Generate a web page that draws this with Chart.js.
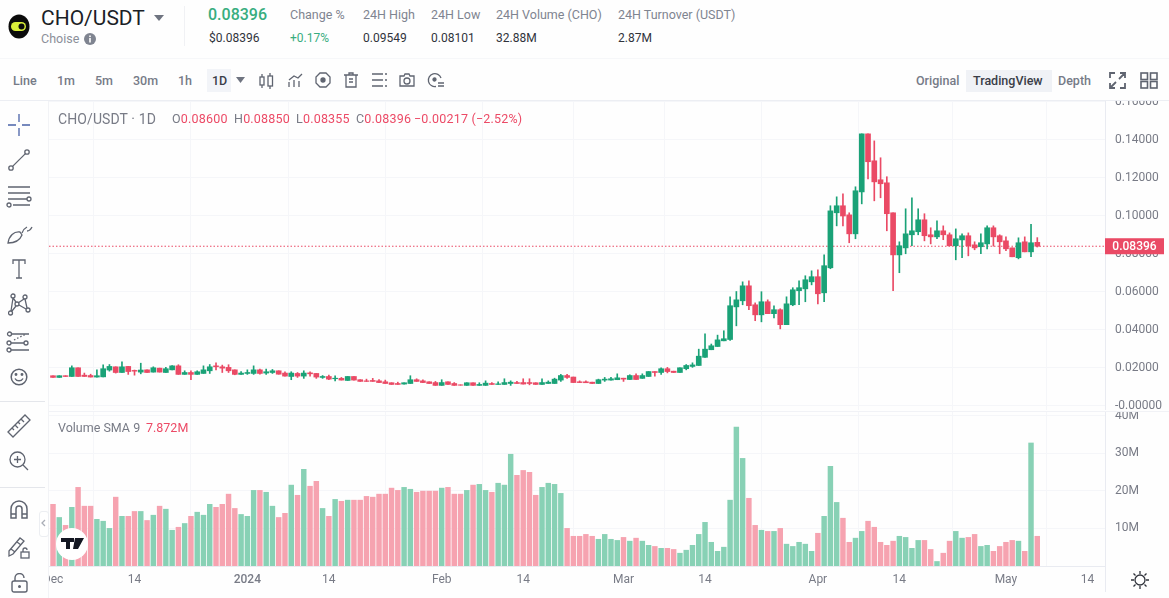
<!DOCTYPE html>
<html>
<head>
<meta charset="utf-8">
<title>CHO/USDT</title>
<script src="https://cdn.jsdelivr.net/npm/chart.js@4/dist/chart.umd.js"></script>
<style>
html, body { margin: 0; padding: 0; background: #fefefe; overflow: hidden; }
body { width: 1169px; height: 598px; position: relative; font-family: Roboto, sans-serif; color: #7f8490; }
.t { position: absolute; white-space: nowrap; line-height: 1; }
canvas { position: absolute; }
.box { position: absolute; }
svg.i { position: absolute; fill: none; stroke: #5f6470; stroke-width: 1.3; }
.leg { font-size: 12.5px; letter-spacing: .2px; color: #ec4a66; top: 113px; }
.leg span { color: #787b86; }
</style>
</head>
<body>

<canvas id="priceChart" width="1120" height="310" style="left:49px;top:100px"></canvas>
<canvas id="volumeChart" width="1120" height="187" style="left:49px;top:411px"></canvas>
<div class="box" style="left:49px;top:411px;width:1120px;height:1px;background:#f1f2f6"></div>
<div class="box" style="left:1105px;top:566px;width:1px;height:26px;background:#e9ebf1"></div>

<!-- header -->
<div class="box" style="left:0;top:0;width:1169px;height:100px;background:#fefefe"></div>
<div class="box" style="left:0;top:58px;width:1169px;height:1px;background:#f6f7f9"></div>
<div class="box" style="left:0;top:100px;width:1169px;height:1px;background:#eceef3"></div>
<div class="box" style="left:184px;top:6px;width:1px;height:40px;background:#f0f1f4"></div>
<svg class="i" style="left:8px;top:14px;stroke:none" width="22" height="25"><ellipse cx="11" cy="12.5" rx="10.5" ry="12" fill="#0b0b0b"/><rect x="3" y="8" width="15" height="9" rx="4.5" fill="#d9ee3a"/><circle cx="13.5" cy="12.5" r="3" fill="#0b0b0b"/></svg>
<div class="t" style="left:41px;top:8px;font-size:21px;color:#1c1f27">CHO/USDT</div>
<svg class="i" style="left:154px;top:15px;stroke:none" width="10" height="7"><path d="M0 0h10L5 6z" fill="#6f7480"/></svg>
<div class="t" style="left:41px;top:33px;font-size:12.5px;color:#8b8f99">Choise</div>
<svg class="i" style="left:84px;top:33px;stroke:none" width="12" height="12"><circle cx="6" cy="6" r="6" fill="#7f8490"/><rect x="5.2" y="5" width="1.6" height="4.5" fill="#fff"/><rect x="5.2" y="2.5" width="1.6" height="1.6" fill="#fff"/></svg>

<div class="t" style="left:208px;top:7px;font-size:16px;font-weight:500;color:#38ad7f">0.08396</div>
<div class="t" style="left:209px;top:32px;font-size:12px;color:#30333b">$0.08396</div>
<div class="t" style="left:290px;top:9px;font-size:12.5px">Change %</div>
<div class="t" style="left:290px;top:32px;font-size:12px;color:#38ad7f">+0.17%</div>
<div class="t" style="left:363px;top:9px;font-size:12.5px">24H High</div>
<div class="t" style="left:363px;top:32px;font-size:12px;color:#30333b">0.09549</div>
<div class="t" style="left:431px;top:9px;font-size:12.5px">24H Low</div>
<div class="t" style="left:431px;top:32px;font-size:12px;color:#30333b">0.08101</div>
<div class="t" style="left:496px;top:9px;font-size:12.5px">24H Volume (CHO)</div>
<div class="t" style="left:496px;top:32px;font-size:12px;color:#30333b">32.88M</div>
<div class="t" style="left:618px;top:9px;font-size:12.5px">24H Turnover (USDT)</div>
<div class="t" style="left:618px;top:32px;font-size:12px;color:#30333b">2.87M</div>

<!-- toolbar -->
<div class="t" style="left:13px;top:75px;font-size:12.5px;font-weight:500;color:#767b87">Line</div>
<div class="t" style="left:57px;top:75px;font-size:12.5px;font-weight:500;color:#767b87">1m</div>
<div class="t" style="left:95px;top:75px;font-size:12.5px;font-weight:500;color:#767b87">5m</div>
<div class="t" style="left:133px;top:75px;font-size:12.5px;font-weight:500;color:#767b87">30m</div>
<div class="t" style="left:178px;top:75px;font-size:12.5px;font-weight:500;color:#767b87">1h</div>
<div class="box" style="left:207px;top:69px;width:24px;height:23px;background:#f2f4f8"></div>
<div class="t" style="left:212px;top:75px;font-size:12.5px;font-weight:500;color:#3a3e48">1D</div>
<svg class="i" style="left:236px;top:77px;stroke:none" width="10" height="6"><path d="M0 0h9L4.5 6z" fill="#6f7480"/></svg>
<svg class="i" style="left:259px;top:73px" width="15" height="16"><rect x="1" y="4" width="4" height="8"/><rect x="9" y="3" width="4.5" height="10"/><path d="M3 1v3M3 12v3M11 0v3M11 13v3"/></svg>
<svg class="i" style="left:288px;top:73px" width="15" height="15"><path d="M1 14V9M6 14V7M11 14V8M1 7l5-4 4 2 4-4"/></svg>
<svg class="i" style="left:315px;top:72px" width="16" height="16"><path d="M5 1h6l4 4v6l-4 4H5l-4-4V5z"/><circle cx="8" cy="8" r="2" fill="#5f6470"/></svg>
<svg class="i" style="left:344px;top:72px" width="14" height="16"><path d="M0 3h14M5 3V1h4v2M2 3v12h10V3M5 7h4M5 10h4"/></svg>
<svg class="i" style="left:372px;top:73px" width="15" height="14"><path d="M0 1h11M0 7h11M0 13h11M13 1h2M13 7h2M13 13h2"/></svg>
<svg class="i" style="left:399px;top:73px" width="16" height="14"><path d="M1 3h4l1-2h4l1 2h4v10H1z"/><circle cx="8" cy="8" r="3"/></svg>
<svg class="i" style="left:427px;top:72px" width="17" height="16"><path d="M14 6a6.5 6.5 0 1 0-5 8.5M11 11h6M11 14h6"/><circle cx="7.5" cy="7.5" r="1.5" fill="#5f6470"/></svg>

<div class="t" style="left:916px;top:75px;font-size:12.5px;font-weight:500;color:#767b87">Original</div>
<div class="box" style="left:966px;top:70px;width:86px;height:22px;background:#f0f2f6"></div>
<div class="t" style="left:973px;top:75px;font-size:12.5px;font-weight:500;color:#3a3e48">TradingView</div>
<div class="t" style="left:1058px;top:75px;font-size:12.5px;font-weight:500;color:#767b87">Depth</div>
<svg class="i" style="left:1109px;top:72px;stroke-width:1.8" width="17" height="17"><path d="M1 6V1h5M16 6V1h-5M11 1h5L10 7M1 11v5h5M1 16l6-6M16 11v5h-5"/></svg>
<svg class="i" style="left:1140px;top:72px;stroke-width:1.6" width="18" height="17"><rect x="1" y="1" width="6.5" height="6.5"/><rect x="10.5" y="1" width="6.5" height="6.5"/><rect x="1" y="9.5" width="6.5" height="6.5"/><rect x="10.5" y="9.5" width="6.5" height="6.5"/></svg>

<!-- left drawing tools -->
<div class="box" style="left:0;top:101px;width:48px;height:497px;background:#fefefe;border-right:1px solid #f2f3f6"></div>
<div class="box" style="left:0;top:401px;width:45px;height:1px;background:#e4e6eb"></div>
<div class="box" style="left:0;top:487px;width:45px;height:1px;background:#e4e6eb"></div>
<svg class="i" style="left:8px;top:114px;stroke:#4a63a8" width="22" height="22"><path d="M0 11h8M14 11h8M11 0v8M11 14v8"/></svg>
<svg class="i" style="left:7px;top:148px" width="24" height="24"><circle cx="4" cy="20" r="2.2"/><circle cx="20" cy="4" r="2.2"/><path d="M5.6 18.4L18.4 5.6"/></svg>
<svg class="i" style="left:6px;top:186px" width="26" height="22"><path d="M2 1h22M2 7h22M2 13h19M7 19h17"/><circle cx="23" cy="13" r="2"/><circle cx="3" cy="19" r="2"/></svg>
<svg class="i" style="left:7px;top:224px" width="27" height="20"><path d="M1 19c1-7 6-12 12-11l2 3c-2 5-6 8-14 8zM15 9c1-3 3-5 5-6M20 7c2 0 4-2 5-4"/></svg>
<svg class="i" style="left:12px;top:259px" width="14" height="20"><path d="M1 5V1h12v4M7 1v18M4 19h6"/></svg>
<svg class="i" style="left:8px;top:293px" width="24" height="24"><circle cx="5" cy="3" r="2"/><circle cx="17" cy="4" r="2"/><circle cx="2.5" cy="20" r="2"/><circle cx="20" cy="17" r="2"/><circle cx="9" cy="11" r="2"/><path d="M5 5l3 4M16 6l-6 4M3 18L5 5M19 15L17 6M11 12l7 4M8 13l-4 5"/></svg>
<svg class="i" style="left:6px;top:331px" width="25" height="22"><circle cx="3.5" cy="3" r="2"/><circle cx="3" cy="12" r="2"/><circle cx="20" cy="12" r="2"/><circle cx="3" cy="19" r="2"/><path d="M6 3h17M5 12h13M5 19h18"/><path d="M8 9l12-6" stroke-dasharray="1.5 2"/></svg>
<svg class="i" style="left:10px;top:368px;stroke-width:1.5" width="18" height="18"><circle cx="9" cy="9" r="7.8"/><path d="M5 10.5c1.5 3 6.5 3 8 0"/><circle cx="6" cy="6.5" r=".7"/><circle cx="12" cy="6.5" r=".7"/></svg>
<svg class="i" style="left:6px;top:413px" width="26" height="26"><path d="M2 19L19 2l5 5L7 24zM6 15l2 2M9 12l3 3M12 9l2 2M15 6l3 3"/></svg>
<svg class="i" style="left:9px;top:451px" width="20" height="20"><circle cx="8.5" cy="8.5" r="7.5"/><path d="M5 8.5h7M8.5 5v7M14 14l5 5"/></svg>
<svg class="i" style="left:10px;top:500px;stroke-width:1.5" width="18" height="20"><path d="M1 18V9a8 8 0 0 1 16 0v9h-5V9a3 3 0 0 0-6 0v9zM1 14h5M12 14h5"/></svg>
<svg class="i" style="left:8px;top:536px" width="22" height="24"><path d="M1 15L12 2l4 3L5 18l-4 2zM9 6l4 3M3 13l4 3"/><rect x="13" y="16" width="8" height="6"/><path d="M15 16v-2a2 2 0 0 1 4 0"/></svg>
<svg class="i" style="left:11px;top:573px;stroke-width:1.4" width="17" height="21"><rect x="1" y="8" width="15" height="11" rx="2"/><path d="M4 8V5a4.5 4.5 0 0 1 9 0"/><circle cx="8.5" cy="13.5" r=".8" fill="#5f6470"/></svg>
<div class="box" style="left:39px;top:511px;width:8px;height:24px;background:#fff;border:1px solid #eceef2;border-radius:3px"></div>
<svg class="i" style="left:41px;top:519px;stroke:#a9adb6" width="6" height="8"><path d="M4 1L1 4l3 3"/></svg>

<!-- pane legends -->
<div class="t" style="left:58px;top:112px;font-size:14px;letter-spacing:.1px;color:#787b86">CHO/USDT · 1D</div>
<div class="t leg" style="left:172px"><span>O</span>0.08600</div>
<div class="t leg" style="left:234px"><span>H</span>0.08850</div>
<div class="t leg" style="left:296px"><span>L</span>0.08355</div>
<div class="t leg" style="left:356px"><span>C</span>0.08396</div>
<div class="t leg" style="left:414px">−0.00217 (−2.52%)</div>
<div class="t" style="left:58px;top:422px;font-size:12.5px;color:#787b86">Volume SMA 9</div>
<div class="t" style="left:146px;top:422px;font-size:12.5px;color:#ec4a66">7.872M</div>

<!-- watermark -->
<div class="box" style="left:56px;top:528px;width:32px;height:32px;border-radius:16px;background:#fff"></div>
<svg class="i" style="left:61px;top:538px;stroke:none" width="23" height="12"><path d="M0 0h9v11H5V4H0zM14 0h9l-6 11h-5zM9 0h4v4H9z" fill="#131722"/></svg>
<svg class="i" style="left:1131px;top:571px;stroke:#30333b" width="18" height="18"><circle cx="9" cy="9" r="5"/><path d="M9 0v3M9 15v3M0 9h3M15 9h3M2.5 2.5l2 2M13.5 13.5l2 2M2.5 15.5l2-2M13.5 4.5l2-2"/></svg>

<script>
// dates are day indexes, 0 is 1 Dec 2023
var tickDays = [0, 13, 31, 44, 62, 75, 91, 104, 122, 135, 152, 165];
var tickLabels = ["Dec", "14", "2024", "14", "Feb", "14", "Mar", "14", "Apr", "14", "May", "14"];
var priceTicks = [0, 0.02, 0.04, 0.06, 0.08, 0.10, 0.12, 0.14, 0.16];
var volumeTicks = [10, 20, 30, 40];

var opens = [.0157,.0148,.0157,.0153,.0199,.0160,.0158,.0150,.0151,.0187,.0204,.0174,.0206,.0185,.0176,.0188,.0176,.0197,.0174,.0188,
  .0209,.0164,.0174,.0164,.0169,.0183,.0209,.0204,.0201,.0188,.0164,.0169,.0169,.0188,.0171,.0174,.0183,.0171,.0153,.0169,
  .0155,.0172,.0169,.0148,.0153,.0141,.0143,.0132,.0153,.0136,.0130,.0132,.0130,.0125,.0120,.0116,.0113,.0116,.0136,.0130,
  .0125,.0121,.0106,.0125,.0116,.0109,.0106,.0120,.0106,.0106,.0116,.0111,.0111,.0116,.0121,.0121,.0121,.0120,.0111,.0116,
  .0116,.0134,.0158,.0150,.0125,.0125,.0123,.0116,.0134,.0134,.0136,.0144,.0137,.0158,.0143,.0153,.0179,.0174,.0194,.0181,
  .0174,.0194,.0206,.0211,.0254,.0294,.0311,.0341,.0348,.0520,.0552,.0631,.0531,.0478,.0547,.0484,.0505,.0426,.0531,.0605,
  .0615,.0652,.0679,.0594,.0726,.1016,.1053,.1005,.0905,.1126,.1432,.1290,.1190,.1174,.1016,.0794,.0831,.0900,.0916,.0979,
  .0900,.0889,.0921,.0900,.0842,.0873,.0895,.0847,.0837,.0852,.0937,.0895,.0868,.0831,.0779,.0863,.0810,.0860];
var highs = [.0157,.0157,.0157,.0209,.0199,.0171,.0165,.0188,.0215,.0216,.0204,.0230,.0206,.0187,.0223,.0188,.0204,.0197,.0201,.0211,
  .0215,.0183,.0183,.0183,.0209,.0216,.0225,.0213,.0215,.0188,.0179,.0188,.0209,.0192,.0192,.0190,.0183,.0178,.0178,.0174,
  .0183,.0178,.0169,.0158,.0160,.0157,.0148,.0153,.0153,.0136,.0139,.0143,.0137,.0134,.0120,.0123,.0120,.0157,.0141,.0136,
  .0125,.0127,.0136,.0125,.0121,.0109,.0120,.0120,.0120,.0130,.0121,.0125,.0141,.0130,.0127,.0141,.0141,.0120,.0141,.0130,
  .0144,.0164,.0164,.0150,.0130,.0130,.0123,.0139,.0148,.0148,.0167,.0144,.0162,.0167,.0167,.0179,.0179,.0199,.0201,.0181,
  .0199,.0216,.0225,.0297,.0378,.0324,.0371,.0394,.0573,.0601,.0652,.0657,.0541,.0600,.0557,.0526,.0510,.0573,.0621,.0657,
  .0684,.0710,.0715,.0794,.1053,.1100,.1116,.1016,.1153,.1432,.1432,.1395,.1306,.1206,.1016,.0863,.1037,.1095,.1037,.1011,
  .0937,.0974,.0947,.0910,.0931,.0905,.0910,.0863,.0905,.0947,.0947,.0900,.0889,.0831,.0884,.0889,.0955,.0885];
var lows = [.0148,.0148,.0153,.0153,.0153,.0153,.0150,.0150,.0151,.0181,.0171,.0174,.0164,.0160,.0167,.0174,.0176,.0176,.0174,.0188,
  .0164,.0164,.0136,.0164,.0169,.0169,.0188,.0174,.0174,.0162,.0164,.0164,.0164,.0165,.0164,.0169,.0165,.0155,.0136,.0148,
  .0143,.0155,.0143,.0143,.0136,.0130,.0134,.0132,.0134,.0127,.0127,.0127,.0121,.0116,.0111,.0111,.0113,.0116,.0127,.0121,
  .0116,.0106,.0106,.0111,.0106,.0107,.0106,.0106,.0106,.0106,.0111,.0111,.0111,.0106,.0116,.0113,.0109,.0111,.0111,.0116,
  .0116,.0127,.0143,.0121,.0121,.0120,.0116,.0116,.0127,.0134,.0136,.0127,.0137,.0137,.0143,.0153,.0155,.0164,.0172,.0174,
  .0174,.0188,.0201,.0211,.0254,.0294,.0311,.0341,.0343,.0420,.0531,.0505,.0447,.0441,.0484,.0462,.0404,.0426,.0526,.0531,
  .0547,.0636,.0536,.0547,.0721,.0947,.0947,.0858,.0879,.1063,.1195,.1079,.1095,.0921,.0605,.0700,.0800,.0842,.0900,.0868,
  .0852,.0879,.0874,.0842,.0768,.0779,.0789,.0821,.0800,.0826,.0840,.0800,.0816,.0784,.0773,.0810,.0784,.08355];
var closes = [.0148,.0157,.0153,.0199,.0153,.0153,.0150,.0157,.0194,.0206,.0174,.0204,.0179,.0181,.0187,.0174,.0199,.0176,.0194,.0209,
  .0164,.0174,.0164,.0178,.0188,.0204,.0204,.0197,.0183,.0164,.0171,.0174,.0188,.0169,.0178,.0183,.0165,.0155,.0171,.0155,
  .0171,.0167,.0150,.0153,.0139,.0144,.0134,.0153,.0134,.0127,.0127,.0127,.0121,.0116,.0111,.0111,.0120,.0136,.0127,.0121,
  .0116,.0106,.0121,.0111,.0106,.0107,.0120,.0106,.0111,.0118,.0111,.0114,.0121,.0123,.0116,.0113,.0116,.0111,.0121,.0123,
  .0139,.0158,.0148,.0121,.0121,.0120,.0116,.0136,.0139,.0141,.0146,.0139,.0158,.0137,.0158,.0179,.0174,.0194,.0179,.0174,
  .0199,.0211,.0214,.0260,.0297,.0315,.0346,.0352,.0526,.0557,.0631,.0526,.0478,.0547,.0484,.0505,.0426,.0536,.0610,.0621,
  .0663,.0679,.0589,.0737,.1026,.1053,.0999,.0905,.1132,.1432,.1285,.1179,.1169,.1011,.0794,.0842,.0905,.0921,.0979,.0895,
  .0889,.0921,.0900,.0842,.0879,.0895,.0842,.0831,.0858,.0937,.0889,.0863,.0826,.0784,.0858,.0810,.0858,.08396];
// volume in millions
var volumes = [16.4,12.9,10.8,15.6,20.9,15.9,15.9,12.4,11.9,10.0,18.3,13.2,13.2,14.5,14.5,12.1,13.5,15.9,15.1,9.5,
  10.3,11.3,13.2,14.3,13.5,16.4,15.6,16.4,19.1,15.3,13.7,13.2,20.1,20.1,19.6,15.9,12.9,14.0,21.5,18.8,
  25.7,21.2,22.5,15.3,13.2,17.7,17.2,17.5,17.5,17.5,18.5,18.3,19.1,19.1,20.7,20.1,20.9,20.4,19.6,19.9,
  19.9,19.9,20.7,20.9,19.1,19.1,20.1,21.5,21.7,20.1,19.6,22.0,21.5,29.7,24.1,25.4,24.9,18.8,20.9,22.0,
  21.7,19.3,10.0,7.9,7.9,8.4,7.9,7.1,8.4,7.1,6.8,7.6,6.6,7.4,6.6,5.5,5.2,4.7,4.7,4.4,
  3.4,4.2,5.5,8.4,11.6,6.3,3.9,5.0,17.5,36.9,28.6,18.0,10.8,9.5,9.2,9.2,10.0,5.8,5.2,6.3,
  5.8,3.9,8.7,13.2,26.5,16.9,12.7,6.3,7.4,9.2,11.9,10.3,6.3,5.5,6.6,7.9,7.6,4.7,6.8,6.8,
  4.4,1.2,3.4,6.6,9.2,7.4,7.6,8.4,5.2,5.5,3.9,5.2,6.3,6.8,6.6,3.9,32.7,7.9];

var upColor = "#1aa277", downColor = "#ea4a65";
var upVolume = "#88d1b5", downVolume = "#f6a3b0";
var gridColor = "#f5f6f9", axisColor = "#e9ebf1", tickColor = "#787b86";
var fontName = "Roboto";

// x range so one day is 6.27px and day 0 sits 4px in from the pane edge
var xMin = -0.64, xMax = 167.8;
var lastClose = closes[closes.length - 1];

function isUp(i) { return closes[i] >= opens[i]; }
var days = closes.map(function (c, i) { return i; });
var candleColors = days.map(function (i) { return isUp(i) ? upColor : downColor; });
var volumeColors = days.map(function (i) { return isUp(i) ? upVolume : downVolume; });

function timeAxis(showLabels) {
    return {
        type: "linear", min: xMin, max: xMax, offset: false,
        grid: { color: gridColor, drawTicks: false },
        border: { display: showLabels, color: axisColor },
        afterBuildTicks: function (s) { s.ticks = tickDays.map(function (d) { return { value: d }; }); },
        afterFit: function (s) { s.paddingLeft = 0; s.paddingRight = 0; s.height = showLabels ? 32 : 0; },
        ticks: {
            display: showLabels, autoSkip: false, maxRotation: 0, padding: 7, color: tickColor,
            font: function (ctx) {
                return { family: fontName, size: 12, weight: tickLabels[ctx.index] == "2024" ? "500" : "400" };
            },
            callback: function (v, i) { return tickLabels[i]; }
        }
    };
}

function valueAxis(tickList, fmt) {
    return {
        position: "right",
        grid: { color: gridColor, drawTicks: false },
        border: { display: true, color: axisColor },
        afterBuildTicks: function (s) { s.ticks = tickList.map(function (v) { return { value: v }; }); },
        afterFit: function (s) { s.width = 64; s.paddingTop = 0; s.paddingBottom = 0; },
        ticks: { padding: 10, color: tickColor, font: { family: fontName, size: 12 }, callback: fmt }
    };
}

// red box with the last price on the price axis
var lastPriceTag = {
    id: "lastPriceTag",
    afterDraw: function (chart) {
        var ctx = chart.ctx;
        var y = chart.scales.y.getPixelForValue(lastClose);
        ctx.save();
        ctx.fillStyle = downColor;
        ctx.fillRect(chart.chartArea.right, y - 8, 59, 16);
        ctx.fillStyle = "#fff";
        ctx.font = "500 12px " + fontName;
        ctx.textAlign = "center";
        ctx.textBaseline = "middle";
        ctx.fillText(lastClose.toFixed(5), chart.chartArea.right + 29.5, y + 0.5);
        ctx.restore();
    }
};

new Chart(document.getElementById("priceChart"), {
    data: {
        datasets: [
            {
                type: "bar", grouped: false, barThickness: 5, order: 1,
                data: days.map(function (i) { return { x: i, y: [opens[i], closes[i]] }; }),
                backgroundColor: candleColors
            },
            {
                type: "bar", grouped: false, barThickness: 1, order: 2,
                data: days.map(function (i) { return { x: i, y: [lows[i], highs[i]] }; }),
                backgroundColor: candleColors
            },
            {
                type: "line", order: 3, pointRadius: 0, borderWidth: 1, borderDash: [1.5, 2], borderColor: downColor,
                data: [{ x: xMin, y: lastClose }, { x: xMax, y: lastClose }]
            }
        ]
    },
    options: {
        responsive: false, animation: false,
        layout: { padding: 0 },
        plugins: { legend: { display: false }, tooltip: { enabled: false } },
        scales: {
            x: timeAxis(false),
            y: Object.assign(valueAxis(priceTicks, function (v) {
                return v == 0 ? "-0.00000" : v.toFixed(5);
            }), { min: -0.00237, max: 0.16105 })
        }
    },
    plugins: [lastPriceTag]
});

new Chart(document.getElementById("volumeChart"), {
    data: {
        datasets: [{
            type: "bar", barThickness: 4.8,
            data: days.map(function (i) { return { x: i, y: volumes[i] }; }),
            backgroundColor: volumeColors
        }]
    },
    options: {
        responsive: false, animation: false,
        layout: { padding: 0 },
        plugins: { legend: { display: false }, tooltip: { enabled: false } },
        scales: {
            x: timeAxis(true),
            y: Object.assign(valueAxis(volumeTicks, function (v) { return v + "M"; }), { min: 0, max: 41.2 })
        }
    }
});
</script>
</body>
</html>
